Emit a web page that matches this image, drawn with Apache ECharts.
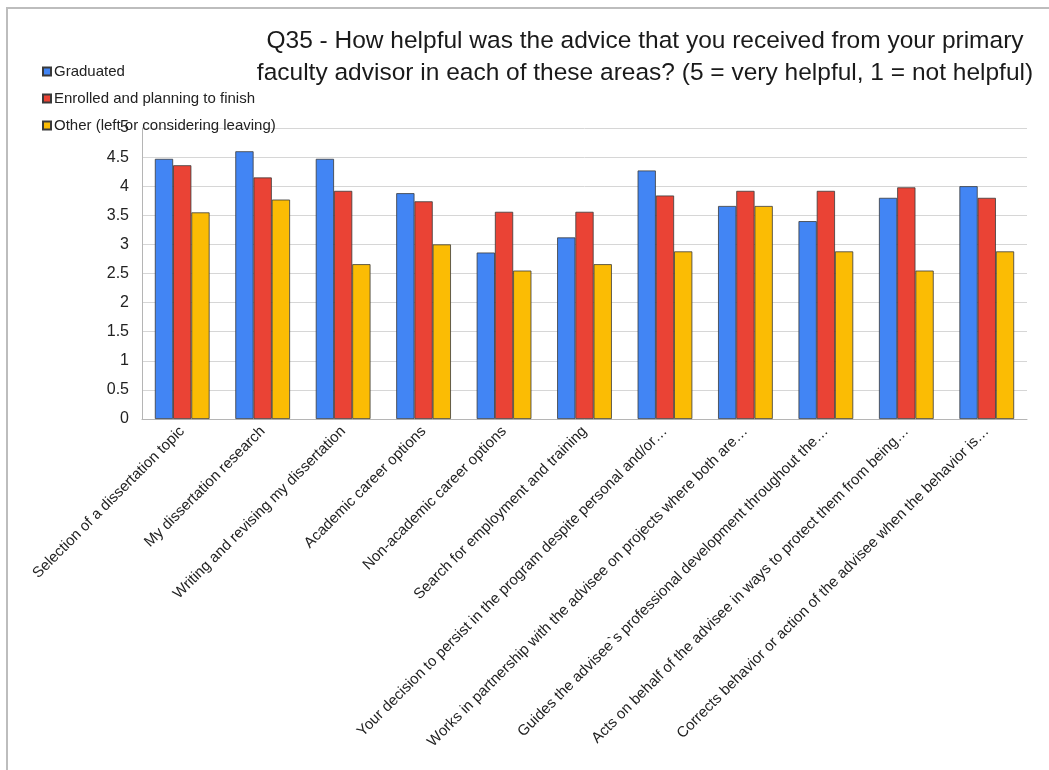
<!DOCTYPE html>
<html>
<head>
<meta charset="utf-8">
<script src="https://cdn.jsdelivr.net/npm/echarts@6/dist/echarts.min.js"></script>
<style>
  html, body { margin: 0; padding: 0; background: #fff; }
  #chart { width: 1049px; height: 770px; }
</style>
</head>
<body>
<div id="chart"></div>
<script>
// Survey question areas (long ones are shortened with an ellipsis)
const categories = [
  'Selection of a dissertation topic',
  'My dissertation research',
  'Writing and revising my dissertation',
  'Academic career options',
  'Non-academic career options',
  'Search for employment and training',
  'Your decision to persist in the program despite personal and/or…',
  'Works in partnership with the advisee on projects where both are…',
  'Guides the advisee`s professional development throughout the…',
  'Acts on behalf of the advisee in ways to protect them from being…',
  'Corrects behavior or action of the advisee when the behavior is…'
];

const seriesNames = [
  'Graduated',
  'Enrolled and planning to finish',
  'Other (left or considering leaving)'
];

// Mean helpfulness rating (1-5) per group
const graduated = [4.47, 4.60, 4.47, 3.88, 2.86, 3.12, 4.27, 3.66, 3.40, 3.80, 4.00];
const enrolled  = [4.36, 4.15, 3.92, 3.74, 3.56, 3.56, 3.84, 3.92, 3.92, 3.98, 3.80];
const other     = [3.55, 3.77, 2.66, 3.00, 2.55, 2.66, 2.88, 3.66, 2.88, 2.55, 2.88];

const yTicks = ['0', '0.5', '1', '1.5', '2', '2.5', '3', '3.5', '4', '4.5', '5'];

const colors = ['#4285F4', '#EA4335', '#FBBC04'];
const FONT = '"Liberation Sans", Arial, sans-serif';

const chart = echarts.init(document.getElementById('chart'), null, { renderer: 'canvas' });

const values = [graduated, enrolled, other];

chart.setOption({
  animation: false,
  backgroundColor: '#ffffff',
  textStyle: { fontFamily: FONT },
  title: {
    text: 'Q35 - How helpful was the advice that you received from your primary\nfaculty advisor in each of these areas? (5 = very helpful, 1 = not helpful)',
    left: 640,
    top: 20,
    textAlign: 'center',
    textStyle: {
      fontFamily: FONT,
      fontSize: 24.5,
      fontWeight: 'normal',
      color: '#1a1a1a',
      lineHeight: 32,
      align: 'right'
    }
  },
  legend: {
    orient: 'vertical',
    left: 37,
    top: 59,
    itemWidth: 8,
    itemHeight: 8,
    itemGap: 12,
    icon: 'rect',
    textStyle: { fontFamily: FONT, fontSize: 15, color: '#222', padding: [0, 0, 0, -2] },
    data: seriesNames
  },
  grid: {
    left: 142,
    right: 22,
    top: 128,
    bottom: 351,
    containLabel: false
  },
  xAxis: {
    type: 'category',
    data: categories,
    axisLine: { show: true, lineStyle: { color: '#b5b5b5', width: 1 } },
    axisTick: { show: false },
    axisLabel: {
      interval: 0,
      rotate: 45,
      margin: 10,
      fontFamily: FONT,
      fontSize: 15,
      color: '#222'
    }
  },
  yAxis: {
    type: 'value',
    min: 0,
    max: 5,
    interval: 0.5,
    axisLine: { show: true, lineStyle: { color: '#b5b5b5', width: 1 } },
    axisTick: { show: false },
    splitLine: { show: true, lineStyle: { color: '#d6d6d6', width: 1 } },
    axisLabel: {
      margin: 13,
      fontFamily: FONT,
      fontSize: 16,
      color: '#222',
      formatter: function (v) {
        return yTicks[Math.round(v * 2)];
      }
    }
  },
  series: seriesNames.map(function (name, i) {
    return {
      name: name,
      type: 'bar',
      data: values[i],
      barGap: '0%',
      barCategoryGap: '32%',
      itemStyle: {
        color: colors[i],
        borderColor: '#3a3a3a',
        borderWidth: 0.8
      }
    };
  }),
  graphic: [
    {
      type: 'polyline',
      silent: true,
      shape: { points: [[7, 770], [7, 8], [1049, 8]] },
      style: { stroke: '#bdbdbd', lineWidth: 2, fill: null }
    }
  ]
});
</script>
</body>
</html>
